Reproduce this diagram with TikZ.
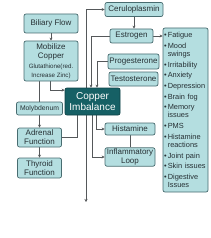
\documentclass[tikz,border=0pt]{standalone}
\usepackage{fontspec}
\setmainfont{Liberation Sans}
\usetikzlibrary{arrows.meta, backgrounds}
\definecolor{boxfill}{RGB}{180,222,224}
\definecolor{boxline}{RGB}{72,108,112}
\definecolor{hubfill}{RGB}{22,96,101}
\definecolor{inktxt}{RGB}{38,48,52}
\definecolor{wire}{RGB}{85,88,90}
\newcommand\tinytxt{\fontsize{6.2}{7}\selectfont}
\newcommand\listtxt{\fontsize{7.4}{8}\selectfont\hyphenpenalty 10000\relax}
\newcommand\itm{\textbullet\hspace{1.2pt}}
\tikzset{
  blk/.style={rectangle, rounded corners=2pt, line width=0.7pt, align=center,
              draw=boxline, fill=boxfill, text=inktxt,
              font=\fontsize{8}{9}\selectfont, inner sep=1pt},
  hub/.style={blk, fill=hubfill, draw=hubfill!70!black, text=white,
              font=\fontsize{10}{11}\selectfont},
  sz/.style 2 args={minimum width=#1pt, minimum height=#2pt},
  link/.style={line width=0.8pt, draw=wire},
  arr/.style={link, -{Stealth[length=3pt, width=3pt]}},
}
\begin{document}
\begin{tikzpicture}[x=1pt, y=-1pt]
  \useasboundingbox (0,0) rectangle (211,238);
  % left column
  \node[blk, sz={54}{19}] (bili)   at (51,23.5)  {Biliary Flow};
  \node[blk, sz={54}{40}] (mobil)  at (51,61)    {Mobilize\\Copper\\[1pt]{\tinytxt Glutathione(red.}\\{\tinytxt Increase Zinc)}};
  \node[blk, sz={46}{13}] (molyb)  at (39.5,108.5) {\fontsize{6.8}{7.5}\selectfont Molybdenum};
  \node[blk, sz={44}{19}] (adren)  at (39.5,137.5) {Adrenal\\Function};
  \node[blk, sz={44}{20}] (thyr)   at (39.5,168)   {Thyroid\\Function};
  % centre
  \node[hub, sz={55}{27}] (copper) at (92.5,101.5) {Copper\\Imbalance};
  % right column
  \node[blk, sz={58}{14}] (cerul)  at (134,9.5)  {Ceruloplasmin};
  \node[blk, sz={43}{14}] (estro)  at (131.5,36) {Estrogen};
  \node[blk, sz={51}{15}] (proges) at (133.5,61.5) {Progesterone};
  \node[blk, sz={49}{14}] (testo)  at (133.5,79) {Testosterone};
  \node[blk, sz={50}{12}] (hista)  at (130,129)  {Histamine};
  \node[blk, sz={50}{18}] (inflam) at (130,157)  {Inflammatory\\Loop};
  \node[blk, align=left, text width=43pt, inner xsep=1pt, minimum height=164pt,
        font=\listtxt] (sympt) at (185.5,110)
       {\itm Fatigue\\[2.7pt]
        \itm Mood\\\phantom{\itm}swings\\[2.7pt]
        \itm Irritability\\[2.7pt]
        \itm Anxiety\\[2.7pt]
        \itm Depression\\[2.7pt]
        \itm Brain fog\\[2.7pt]
        \itm Memory\\\phantom{\itm}issues\\[2.7pt]
        \itm PMS\\[2.7pt]
        \itm Histamine\\\phantom{\itm}reactions\\[2.7pt]
        \itm Joint pain\\[2.7pt]
        \itm Skin issues\\[2.7pt]
        \itm Digestive\\\phantom{\itm}Issues};
  \coordinate (drop) at (86,202);
  \begin{scope}[on background layer]
    \draw[arr] (bili) -- (mobil);
    \draw[link] (molyb.north |- mobil.south) -- (molyb.north);
    \draw[arr] (molyb) -- (adren);
    \draw[arr] (adren) -- (thyr);
    \draw[arr] ([xshift=-1pt]mobil.south) |- ([yshift=-2.5pt]copper.north west);
    \draw[link] (adren.east) -| ([xshift=-15.5pt]copper.south);
    \draw[link, {Stealth[length=3pt, width=3pt]}-{Stealth[length=3pt, width=3pt]}] (drop) |- (cerul.west);
    \draw[arr] (cerul.south) -- (cerul.south |- estro.north);
    \draw[arr] (estro.east) -- (estro.east -| sympt.west);
    \draw[arr] (estro.west) -| ([xshift=-1.5pt]copper.north);
    \draw[arr] (proges.west) -| ([xshift=4.5pt]copper.north);
    \draw[arr] ([xshift=-0.5pt]copper.south) |- (inflam.west);
    \draw[arr] ([xshift=3.5pt]copper.south) |- (hista.west);
    \draw[link] (hista) -- (inflam);
  \end{scope}
\end{tikzpicture}
\end{document}
